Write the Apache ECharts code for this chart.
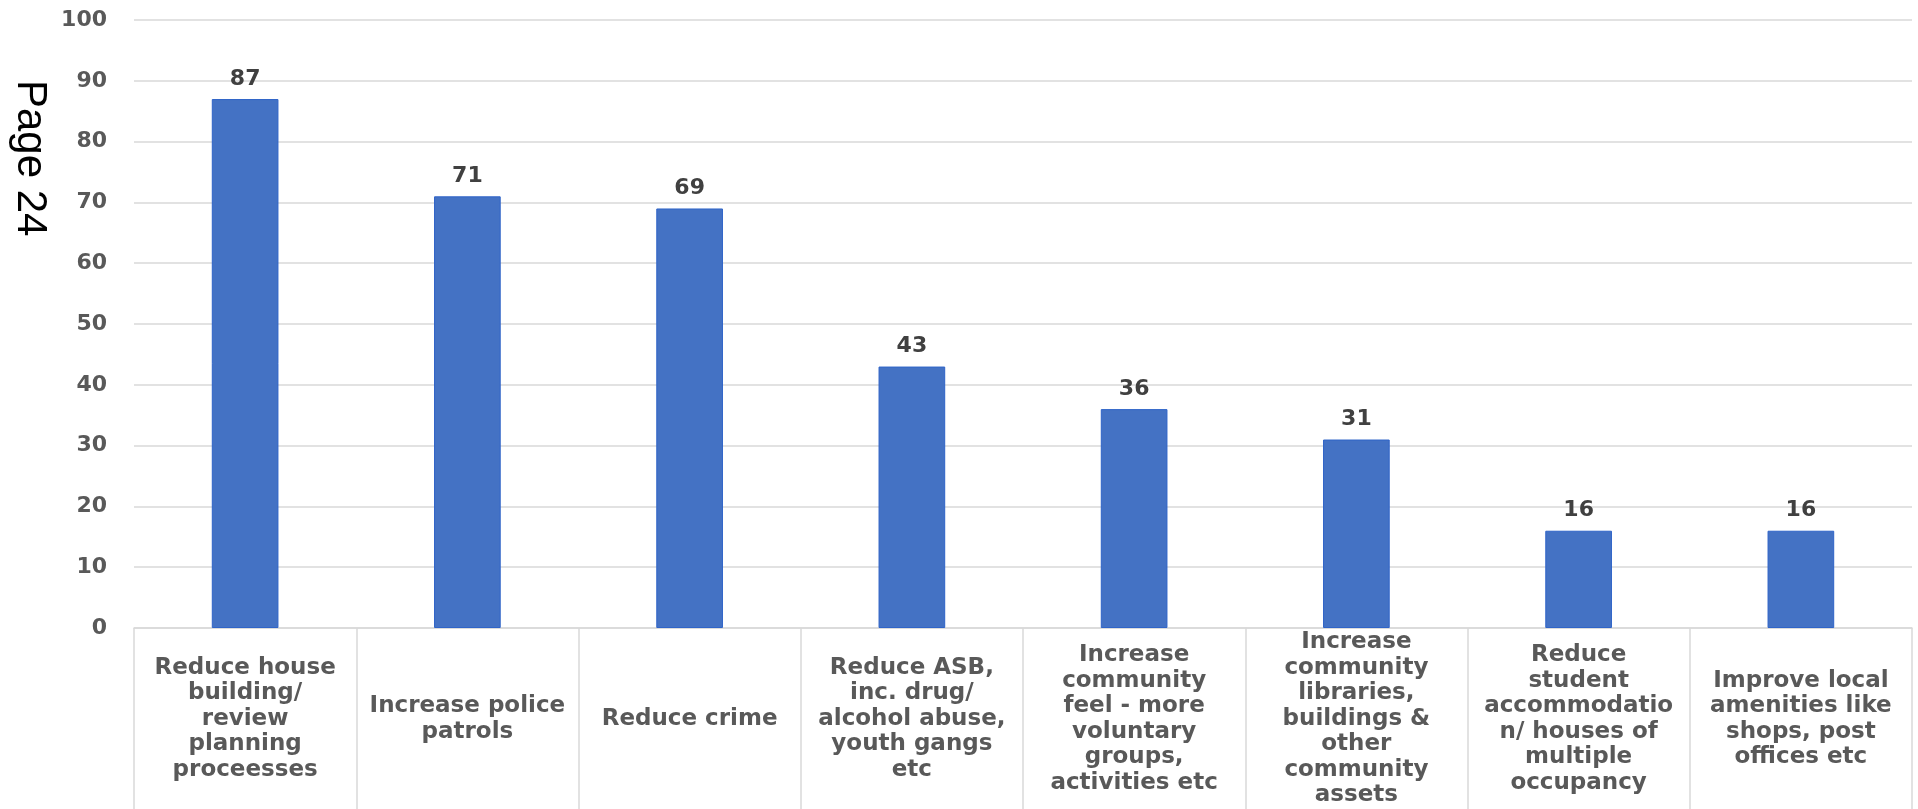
<!DOCTYPE html>
<html><head><meta charset="utf-8">
<script src="https://cdn.jsdelivr.net/npm/echarts@6/dist/echarts.min.js"></script>
<style>html,body{margin:0;padding:0;background:#fff}#c{width:1918px;height:809px}</style>
</head><body><div id="c"></div>
<script>
const categories = [
  "Reduce house\nbuilding/\nreview\nplanning\nproceesses",
  "Increase police\npatrols",
  "Reduce crime",
  "Reduce ASB,\ninc. drug/\nalcohol abuse,\nyouth gangs\netc",
  "Increase\ncommunity\nfeel - more\nvoluntary\ngroups,\nactivities etc",
  "Increase\ncommunity\nlibraries,\nbuildings &\nother\ncommunity\nassets",
  "Reduce\nstudent\naccommodatio\nn/ houses of\nmultiple\noccupancy",
  "Improve local\namenities like\nshops, post\noffices etc"
];
const values = [87, 71, 69, 43, 36, 31, 16, 16];
const yTicks = [0, 10, 20, 30, 40, 50, 60, 70, 80, 90, 100];
const sideText = "Page 24";

const FONT = 'DejaVu Sans, Liberation Sans, Arial';
const chart = echarts.init(document.getElementById('c'));
chart.setOption({
  animation: false,
  grid: { left: 134, right: 6, top: 20, bottom: 181, containLabel: false },
  xAxis: {
    type: 'category',
    data: categories,
    axisLine: { lineStyle: { color: '#d9d9d9', width: 1.5 } },
    axisTick: { show: true, length: 181, lineStyle: { color: '#d9d9d9', width: 1.5 } },
    axisLabel: {
      interval: 0, margin: 91, verticalAlign: 'middle',
      fontFamily: FONT, fontWeight: 'bold', fontSize: 23,
      lineHeight: 25.5, color: '#595959', align: 'center'
    }
  },
  yAxis: {
    type: 'value', min: yTicks[0], max: yTicks[yTicks.length - 1], interval: 10,
    axisLine: { show: false }, axisTick: { show: false },
    splitLine: { lineStyle: { color: '#d9d9d9', width: 1.5 } },
    axisLabel: {
      margin: 27, fontFamily: FONT, fontWeight: 'bold',
      fontSize: 22, color: '#595959'
    }
  },
  series: [{
    type: 'bar',
    data: values,
    barWidth: '30%',
    itemStyle: { color: '#4472C4', borderColor: '#2f64c8', borderWidth: 1 },
    label: {
      show: true, position: 'top', distance: 9,
      fontFamily: FONT, fontWeight: 'bold', fontSize: 22, color: '#404040'
    }
  }],
  graphic: [{
    type: 'text',
    left: 9, top: 80,
    rotation: -Math.PI / 2,
    style: { text: sideText, fontFamily: 'Liberation Sans, Arial', fontSize: 42, fill: '#000' }
  }]
});
</script></body></html>
